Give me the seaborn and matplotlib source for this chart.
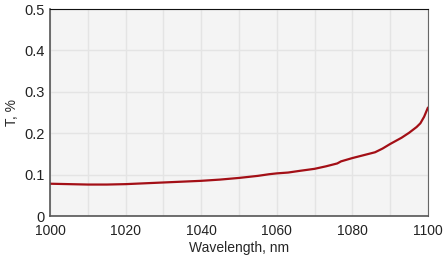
import matplotlib
matplotlib.use("Agg")
import matplotlib.pyplot as plt
import seaborn as sns
import pandas as pd

# wavelength (nm) and transmission (%)
wavelength = [1000, 1005, 1010, 1015, 1020, 1025, 1030, 1035, 1040, 1045, 1050, 1055,
              1058, 1060, 1063, 1066, 1070, 1073, 1076, 1077, 1080, 1083, 1086, 1088,
              1090, 1093, 1095, 1097, 1098, 1099, 1100]
transmission = [0.078, 0.077, 0.076, 0.076, 0.077, 0.079, 0.081, 0.083, 0.085, 0.088, 0.092, 0.097,
                0.101, 0.103, 0.105, 0.109, 0.114, 0.120, 0.127, 0.132, 0.140, 0.147, 0.154, 0.163,
                0.174, 0.189, 0.201, 0.215, 0.224, 0.240, 0.262]

df = pd.DataFrame({"Wavelength": wavelength, "T": transmission})

sns.set_style("whitegrid")
plt.rcParams['font.family'] = ['Liberation Sans', 'DejaVu Sans']

fig, ax = plt.subplots(figsize=(4.43, 2.59), dpi=100)
fig.subplots_adjust(left=0.113, right=0.966, top=0.965, bottom=0.166)
ax.set_facecolor("#f4f4f4")

sns.lineplot(data=df, x="Wavelength", y="T", color="#a30f16", linewidth=1.6, ax=ax)

ax.set_xlim(1000, 1100)
ax.set_ylim(0, 0.5)
ax.set_xticks(range(1000, 1101, 10))
ax.set_xticklabels([str(v) if v % 20 == 0 else "" for v in range(1000, 1101, 10)])
ax.set_yticks([0, 0.1, 0.2, 0.3, 0.4, 0.5])
ax.set_yticklabels(["0", "0.1", "0.2", "0.3", "0.4", "0.5"])
ax.grid(True, color="#e4e4e4", linewidth=1)
ax.tick_params(axis="both", labelsize=10.5, length=0, colors="#222222")
ax.tick_params(axis="x", pad=6, labelsize=10)
ax.tick_params(axis="y", pad=4)
ax.set_xlabel("Wavelength, nm", fontsize=10, labelpad=2)
ax.set_ylabel("T, %", fontsize=10, labelpad=4)

for side in ["left", "bottom"]:
    ax.spines[side].set_color("#555555")
    ax.spines[side].set_linewidth(1.2)
ax.spines["top"].set_color("#111111")
ax.spines["right"].set_color("#666666")

fig.savefig("out.png", dpi=100)
